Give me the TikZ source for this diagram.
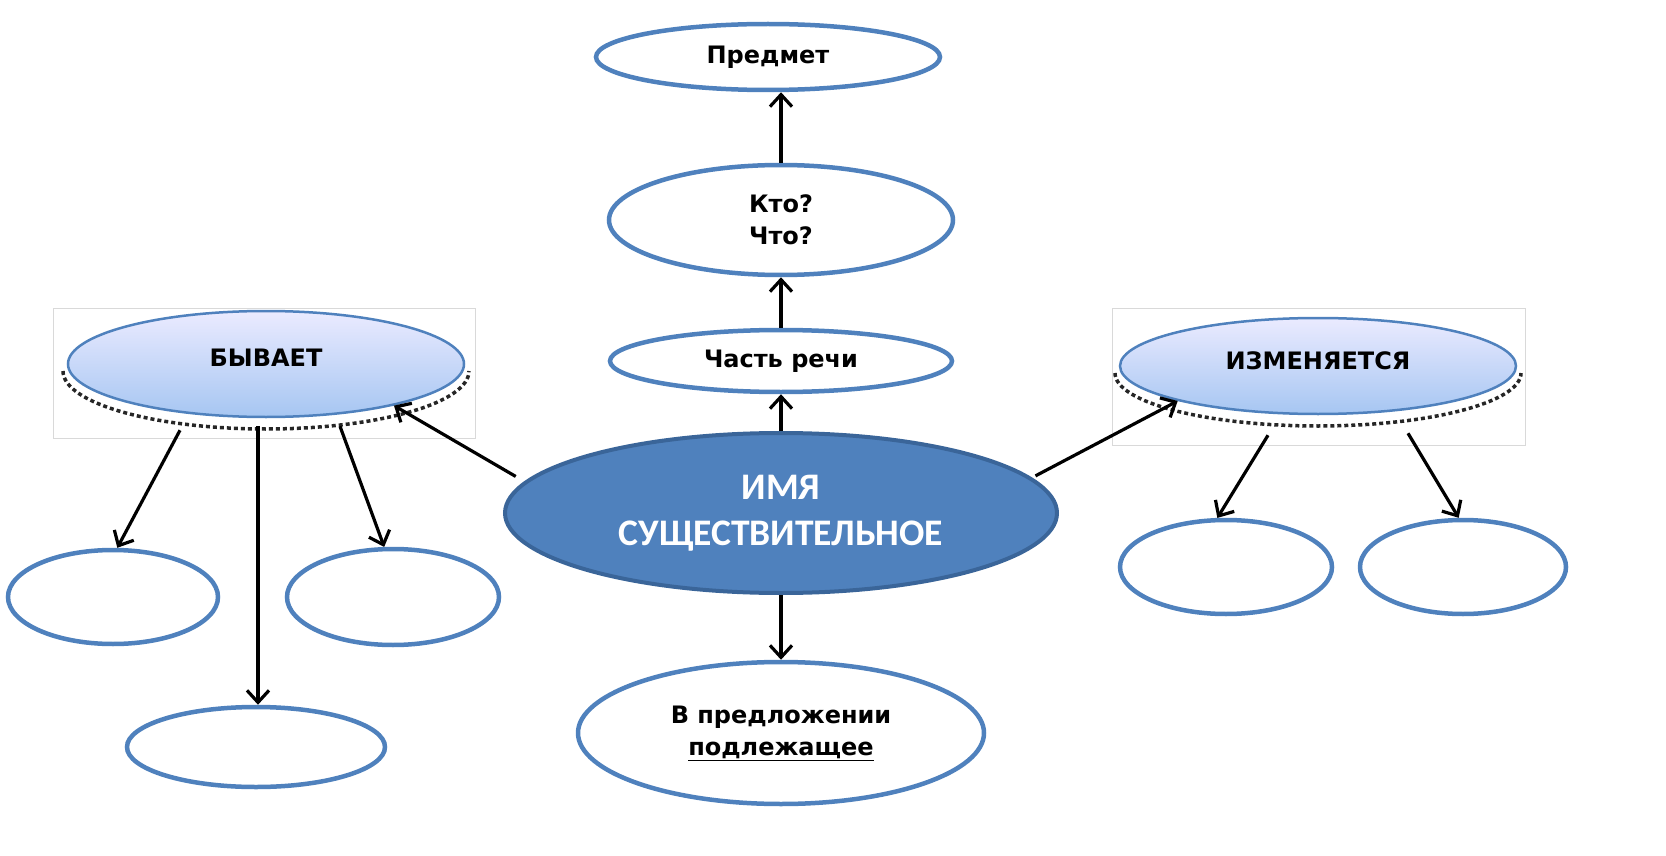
\documentclass[tikz,border=0pt]{standalone}
\usepackage{fontspec}
\setmainfont{DejaVu Sans}
\newfontfamily\capfont{Carlito}
\usepackage{xcolor}
\definecolor{ovalblue}{HTML}{4F81BD}
\definecolor{ovaldark}{HTML}{3A6599}
\usetikzlibrary{shapes.geometric,arrows.meta}

\begin{document}
\begin{tikzpicture}[x=1pt,y=-1pt,
  oval/.style={ellipse,draw=ovalblue,line width=4.5pt,fill=white,inner sep=0pt,
    align=center,font=\bfseries\fontsize{24}{32}\selectfont},
  grad/.style={ellipse,draw=ovalblue,line width=2.5pt,top color=blue!8!white,
    bottom color={rgb,255:red,166;green,198;blue,242},inner sep=0pt,
    font=\bfseries\fontsize{24}{32}\selectfont},
  shadowdots/.style={line width=3.5pt,dash pattern=on 4pt off 3pt,black!85},
  arr/.style={-{Straight Barb[length=12pt,width=22pt]},line width=3.2pt}]
  \useasboundingbox (0,0) rectangle (1666,856);
  % frames round the two blue ovals
  \draw[black!15,line width=1pt] (53,308) rectangle (475,438);
  \draw[black!15,line width=1pt] (1112,308) rectangle (1525,445);
  % centre column
  \node[ellipse,draw=ovaldark,line width=4pt,fill=ovalblue,text=white,
    minimum width=552pt,minimum height=160pt,inner sep=0pt,align=center,
    font=\capfont\bfseries\fontsize{37.5}{46}\selectfont] (imya) at (781,513)
    {ИМЯ\\СУЩЕСТВИТЕЛЬНОЕ};
  \node[oval,minimum width=342pt,minimum height=62pt] (chast) at (781,361) {Часть речи};
  \node[oval,minimum width=344pt,minimum height=110pt] (kto) at (781,220) {Кто?\\Что?};
  \node[oval,minimum width=344pt,minimum height=66pt] (predmet) at (768,57) {Предмет};
  \node[oval,minimum width=406pt,minimum height=142pt] (predl) at (781,733)
    {В предложении\\\underline{подлежащее}};
  % left group
  \node[grad,minimum width=396pt,minimum height=106pt,text depth=12pt] (byvaet) at (266,364) {БЫВАЕТ};
  \draw[shadowdots] ([yshift=-7pt]byvaet.center) ++(-203pt,0pt)
    arc[start angle=180,end angle=360,x radius=203pt,y radius=58pt];
  \node[oval,minimum width=210pt,minimum height=94pt] (b1) at (113,597) {};
  \node[oval,minimum width=212pt,minimum height=96pt] (b2) at (393,597) {};
  \node[oval,minimum width=258pt,minimum height=80pt] (b3) at (256,747) {};
  % right group
  \node[grad,minimum width=396pt,minimum height=96pt,text depth=10pt] (izm) at (1318,366) {ИЗМЕНЯЕТСЯ};
  \draw[shadowdots] ([yshift=-7pt]izm.center) ++(-203pt,0pt)
    arc[start angle=180,end angle=360,x radius=203pt,y radius=53pt];
  \node[oval,minimum width=212pt,minimum height=94pt] (i1) at (1226,567) {};
  \node[oval,minimum width=206pt,minimum height=94pt] (i2) at (1463,567) {};
  % arrows
  \draw[arr] (imya.north) -- (chast.south);
  \draw[arr] (chast.north) -- (kto.south);
  \draw[arr] (kto.north) -- (predmet.south -| kto.north);
  \draw[arr] (imya.south) -- (predl.north);
  \draw[arr,shorten <=10pt] (imya.173) -- (byvaet.-18);
  \draw[arr,shorten <=4pt] (imya.8) -- (izm.194);
  \draw[arr] ([xshift=-86pt,yshift=-12pt]byvaet.south) -- (b1.85);
  \draw[arr] ([xshift=-8pt,yshift=-8pt]byvaet.south) -- (b3.north -| 258,0);
  \draw[arr] ([xshift=74pt,yshift=-8pt]byvaet.south) -- (b2.100);
  \draw[arr] ([xshift=-50pt,yshift=-20pt]izm.south) -- (i1.100);
  \draw[arr] ([xshift=90pt,yshift=-18pt]izm.south) -- (i2.95);
\end{tikzpicture}
\end{document}
